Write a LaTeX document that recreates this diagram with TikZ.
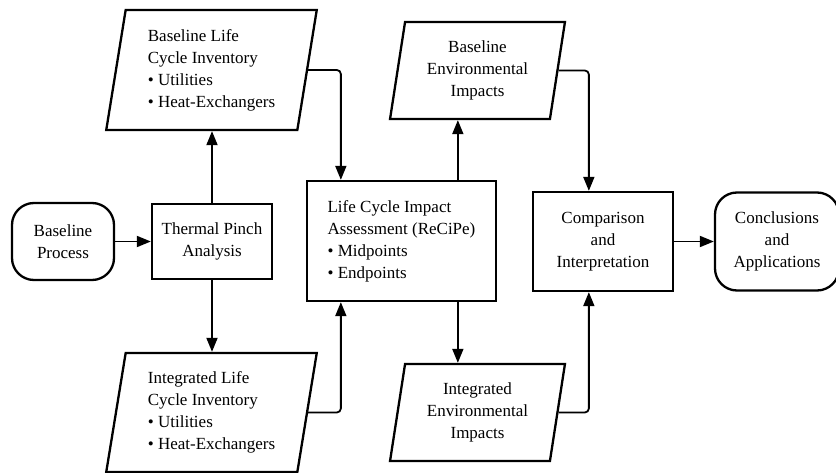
\documentclass[tikz,border=0pt]{standalone}
\usepackage{fontspec}
\setmainfont{Liberation Serif}
\usetikzlibrary{shapes.geometric,arrows.meta}

\begin{document}
\begin{tikzpicture}[x=1pt,y=-1pt,>={Triangle[length=14pt,width=11pt]},line width=1.8pt]

\tikzset{%
every box/.style={
draw,
line width=2.3pt,
inner sep=0pt,
align=center,
font=\fontsize{17}{22}\selectfont
},
box process/.style={rectangle},
box terminal/.style={rectangle,rounded corners=22pt},
box data/.style={
trapezium,
trapezium left angle=80,
trapezium right angle=100,
trapezium stretches=true
},
link/.style={->,rounded corners=4pt},
}

\useasboundingbox (0,0) rectangle (836,473);

% Start and analysis boxes
\node [every box, box terminal, minimum width=102pt, minimum height=77pt] (process) at (63,241.5) {Baseline\\Process};
\node [every box, box process, minimum width=120pt, minimum height=75pt] (pinch) at (212,241.5) {Thermal Pinch\\Analysis};

% Inventory data boxes
\node [every box, box data, minimum width=211pt, minimum height=120pt, align=left] (base-lci) at (211.5,70) {Baseline Life\\Cycle Inventory\\\textbullet~Utilities\\\textbullet~Heat-Exchangers};
\node [every box, box data, minimum width=211pt, minimum height=119pt, align=left] (int-lci) at (211.5,412.5) {Integrated Life\\Cycle Inventory\\\textbullet~Utilities\\\textbullet~Heat-Exchangers};

% Impact assessment
\node [every box, box process, minimum width=189pt, minimum height=120pt, align=left] (lcia) at (401.5,241) {Life Cycle Impact\\Assessment (ReCiPe)\\\textbullet~Midpoints\\\textbullet~Endpoints};

% Impact data boxes
\node [every box, box data, minimum width=175pt, minimum height=97pt] (base-env) at (477.5,70.5) {Baseline\\Environmental\\Impacts};
\node [every box, box data, minimum width=175pt, minimum height=97pt] (int-env) at (477.5,412.5) {Integrated\\Environmental\\Impacts};

% Comparison and end
\node [every box, box process, minimum width=140pt, minimum height=99pt] (compare) at (603,241.5) {Comparison\\and\\Interpretation};
\node [every box, box terminal, minimum width=124pt, minimum height=98pt] (conclude) at (777,241.5) {Conclusions\\and\\Applications};

% Connection points on the box edges
\coordinate (lcia-in1) at ([xshift=35pt]lcia.north west);
\coordinate (lcia-in2) at ([xshift=35pt]lcia.south west);
\coordinate (lcia-out1) at ([xshift=152pt]lcia.north west);
\coordinate (lcia-out2) at ([xshift=152pt]lcia.south west);
\coordinate (compare-in1) at ([xshift=57pt]compare.north west);
\coordinate (compare-in2) at ([xshift=57pt]compare.south west);

% Arrows
\draw [->] (process) -- (pinch);
\draw [->] (pinch.north) -- (pinch.north |- base-lci.south);
\draw [->] (pinch.south) -- (pinch.south |- int-lci.north);
\draw [link] (base-lci.east) -| (lcia-in1);
\draw [link] (int-lci.east) -| (lcia-in2);
\draw [->] (lcia-out1) -- (lcia-out1 |- base-env.south);
\draw [->] (lcia-out2) -- (lcia-out2 |- int-env.north);
\draw [link] (base-env.east) -| (compare-in1);
\draw [link] (int-env.east) -| (compare-in2);
\draw [->] (compare) -- (conclude);

\end{tikzpicture}
\end{document}
